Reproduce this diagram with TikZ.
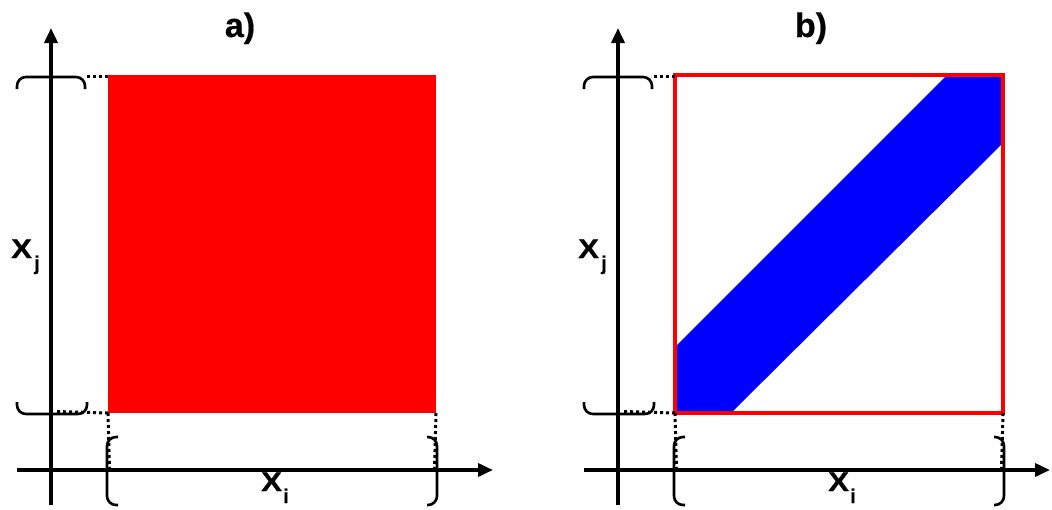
\documentclass[tikz,border=0pt]{standalone}
\usepackage{fontspec}
\setmainfont{Liberation Sans}
\newfontfamily\lbf{Liberation Sans Bold}[FakeBold=0.6]
\usetikzlibrary{arrows.meta}
\begin{document}
\begin{tikzpicture}[x=1pt,y=-1pt,
  axis/.style={line width=3.6pt,-{Triangle[length=15pt,width=13pt]}},
  brace/.style={line width=2.6pt,rounded corners=9pt},
  dots/.style={line width=3pt,dash pattern=on 3pt off 3pt},
  lbl/.style={font=\lbf\fontsize{27}{27}\selectfont,inner sep=0pt},
  sublbl/.style={font=\lbf\fontsize{20}{20}\selectfont,inner sep=0pt},
  ttl/.style={font=\lbf\fontsize{34}{34}\selectfont,inner sep=0pt}]
\useasboundingbox (0,0) rectangle (1052,509);
% panel a fill
\fill[red] (108,75) rectangle (436,413);
% panel b band and box
\begin{scope}[xshift=567pt]
  \fill[blue] (108,347) -- (380,75) -- (436,75) -- (436,143) -- (164,413) -- (108,413) -- cycle;
  \draw[red,line width=3.5pt] (108,75) rectangle (436,413);
\end{scope}
\foreach \dx/\xe/\t/\tx in {0/493/a/240, 567/483/b/244}{
\begin{scope}[xshift=\dx pt]
  \coordinate (ya\t) at (51,505);
  \coordinate (yb\t) at (51,28);
  \coordinate (xa\t) at (17,470);
  \coordinate (xb\t) at (\xe,470);
  \coordinate (tl\t) at (108,76);
  \coordinate (bl\t) at (108,413);
  \coordinate (br\t) at (436,413);
  % dotted guides
  \draw[dots] (tl\t) -- (84,76);
  \draw[dots] (bl\t) -- (56,411.5);
  \draw[dots] (bl\t) -- (109.5,470);
  \draw[dots] (br\t) -- (434.5,470);
  % braces
  \draw[brace] (17,89) -- (17,77) -- (85,77) -- (85,89);
  \draw[brace] (17,402) -- (17,414) -- (87,414) -- (87,402);
  \draw[brace] (118,437) -- (107,437) -- (107,505) -- (118,505);
  \draw[brace] (427,437) -- (437,437) -- (437,505) -- (427,505);
  % axes
  \draw[axis] (ya\t) -- (yb\t);
  \draw[axis] (xa\t) -- (xb\t);
  % labels
  \node[lbl,anchor=base west,xscale=1.15,transform shape] (lj\t) at (11,258) {X};
  \node[sublbl,anchor=base] (sj\t) at (37,270) {j};
  \node[lbl,anchor=base west,xscale=1.15,transform shape] (li\t) at (261,491) {X};
  \node[sublbl,anchor=base] (si\t) at (286,503) {i};
  \node[ttl,anchor=base] (tt\t) at (\tx,37) {\t)};
\end{scope}}
\end{tikzpicture}
\end{document}
